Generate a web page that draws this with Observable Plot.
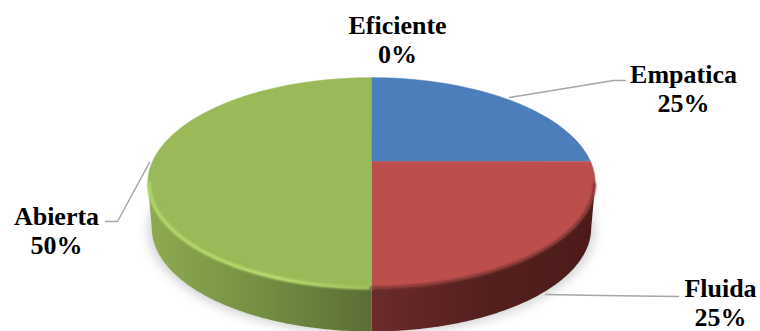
<!DOCTYPE html>
<html>
<head>
<meta charset="utf-8">
<script src="https://cdn.jsdelivr.net/npm/d3@7"></script>
<script src="https://cdn.jsdelivr.net/npm/@observablehq/plot@0.6"></script>
<style>
  html, body { margin: 0; padding: 0; background: #fff; }
  svg { display: block; }
</style>
</head>
<body>
<div id="chart"></div>
<script>
// Survey shares, clockwise from twelve o'clock
const categories = ["Empatica", "Fluida", "Abierta", "Eficiente"];
const values = [25, 25, 50, 0];
const faceColors = ["#4b7ebb", "#bc4f4c", "#9ab958", "#8064a2"];
const wallFills = ["#3a5f8c", "url(#wallRed)", "url(#wallGreen)", "#5f4a78"];

// Tilted disc: perspective factor, wall depth and bottom-rim shrink, in plot units
const tilt = -0.204;
const depth = 0.445;
const shrink = 0.982;
const steps = 120;

// Screen extent of the unit square
const xRange = [152, 590];
const yRange = [60, 262];
const cx = (xRange[0] + xRange[1]) / 2;
const cy = (yRange[0] + yRange[1]) / 2;
const ux = (px) => (px - cx) / ((xRange[1] - xRange[0]) / 2);
const uy = (py) => (py - cy) / ((yRange[1] - yRange[0]) / 2);

// Angle in radians clockwise from the top, to a point on the tilted rim
function rim(a, r = 1) {
  const u = r * Math.sin(a), v = -r * Math.cos(a);
  const w = 1 + tilt * v;
  return {x: u / w, y: v / w};
}
function arc(a0, a1) {
  return d3.range(steps + 1).map((i) => rim(a0 + (a1 - a0) * i / steps));
}
function lowerRim(p) {
  // bottom edge of the wall: same rim pushed down and pulled in a touch
  const mid = 0.218;
  return {x: p.x * shrink, y: mid + (p.y - mid) * shrink + depth};
}

const slices = d3.pie().sort(null).value((d) => d)(values)
  .map((s, i) => ({...s, name: categories[i], face: faceColors[i], wall: wallFills[i]}));

// Only the stretch of rim that faces the viewer gets a wall
const frontStart = 102 * Math.PI / 180;
const frontEnd = 258 * Math.PI / 180;

const faceMarks = slices.filter((s) => s.value > 0).map((s) =>
  Plot.line([{x: 0, y: 0}, ...arc(s.startAngle, s.endAngle)], {
    x: "x", y: "y", fill: s.face, stroke: s.face, strokeWidth: 0.5
  }));

const wallMarks = slices.map((s) => {
  const a0 = Math.max(s.startAngle, frontStart);
  const a1 = Math.min(s.endAngle, frontEnd);
  if (a1 <= a0) return null;
  const top = arc(a0, a1);
  return Plot.line([...top, ...top.slice().reverse().map(lowerRim)], {
    x: "x", y: "y", fill: s.wall, stroke: "none"
  });
}).filter(Boolean);

const shadowRim = arc(0, 2 * Math.PI).map((p) => {
  const q = lowerRim(p);
  return {x: q.x * 1.012, y: q.y + 0.02};
});

const rimEdgeGreen = arc(Math.PI, frontEnd).map((p) => ({x: p.x * 0.994, y: p.y * 0.994 + 0.002}));
const rimEdgeRed = arc(frontStart, Math.PI).map((p) => ({x: p.x * 0.996, y: p.y * 0.996 + 0.002}));

// Leader lines from each slice out to its label, given in screen pixels
const leaders = [
  {name: "Empatica", pts: [[509, 97], [613, 80], [625, 80]]},
  {name: "Abierta", pts: [[149, 162], [117, 221], [105, 221]]},
  {name: "Fluida", pts: [[545, 294], [600, 295], [678, 296]]}
].flatMap((l) => l.pts.map(([px, py]) => ({name: l.name, x: ux(px), y: uy(py)})));

const labelAt = {
  Eficiente: [397, 38.5],
  Empatica: [683, 87.5],
  Abierta: [56, 229.5],
  Fluida: [720, 301.5]
};
const labels = slices.map((s) => ({
  text: `${s.name}\n${s.value}%`,
  x: ux(labelAt[s.name][0]),
  y: uy(labelAt[s.name][1])
}));

const gradients = () => d3.create("svg:defs").html(`
  <linearGradient id="wallGreen" x1="0" x2="1" y1="0" y2="0">
    <stop offset="0" stop-color="#8fab4f"/>
    <stop offset="0.5" stop-color="#748f43"/>
    <stop offset="1" stop-color="#5b6d36"/>
  </linearGradient>
  <linearGradient id="wallRed" x1="0" x2="1" y1="0" y2="0">
    <stop offset="0" stop-color="#6c2b2a"/>
    <stop offset="0.5" stop-color="#54201e"/>
    <stop offset="1" stop-color="#4c1b19"/>
  </linearGradient>
  <linearGradient id="bevelGreen" x1="0" x2="1" y1="0" y2="0">
    <stop offset="0" stop-color="#b2d768"/>
    <stop offset="0.6" stop-color="#b8dd6f"/>
    <stop offset="1" stop-color="#a0c05c"/>
  </linearGradient>`).node();

const chart = Plot.plot({
  width: 760,
  height: 331,
  margin: 0,
  x: {domain: [-1, 1], range: xRange, axis: null},
  y: {domain: [-1, 1], range: yRange, axis: null},
  marks: [
    gradients,
    Plot.line(shadowRim, {x: "x", y: "y", fill: "#000", fillOpacity: 0.2, stroke: "none", imageFilter: "blur(6px)"}),
    ...wallMarks,
    ...faceMarks,
    Plot.line(rimEdgeGreen, {x: "x", y: "y", stroke: "url(#bevelGreen)", strokeWidth: 3.5, imageFilter: "blur(1px)"}),
    Plot.line(rimEdgeRed, {x: "x", y: "y", stroke: "#7e3533", strokeWidth: 3, imageFilter: "blur(1.2px)"}),
    Plot.line(leaders, {x: "x", y: "y", z: "name", stroke: "#a6a6a6", strokeWidth: 1.5}),
    Plot.text(labels, {
      x: "x", y: "y", text: "text",
      fontFamily: "Liberation Serif", fontWeight: "bold", fontSize: 26,
      lineHeight: 1.13, textAnchor: "middle", lineAnchor: "middle", fill: "#000"
    })
  ]
});
document.getElementById("chart").append(chart);
</script>
</body>
</html>
